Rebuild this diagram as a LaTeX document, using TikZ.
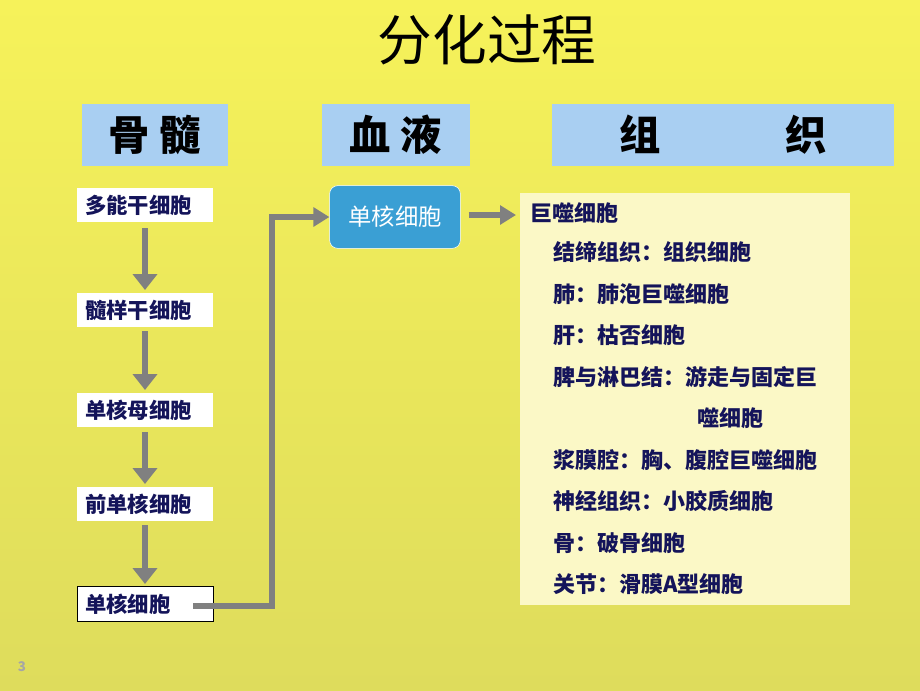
\documentclass[tikz,border=0pt]{standalone}
\usepackage{fontspec}
\setmainfont{Noto Sans CJK SC}
\usepackage{tikz}
\usetikzlibrary{arrows.meta, positioning}
\definecolor{bgtop}{HTML}{F6F25A}
\definecolor{bgbot}{HTML}{DEDC5C}
\definecolor{head}{HTML}{A9CFF2}
\definecolor{navy}{HTML}{14145A}
\definecolor{mono}{HTML}{3A9FD4}
\definecolor{panel}{HTML}{FBF8C6}
\definecolor{flow}{HTML}{808080}

\begin{document}
\begin{tikzpicture}[x=0.75pt, y=-0.75pt,
  header/.style ={fill=head, minimum width=#1, minimum height=47pt,
    font=\fontsize{31}{31}\selectfont\bfseries, inner sep=0pt},
  %
  stage/.style ={fill=white, anchor=west, text width=90pt,
    minimum height=26pt, text=navy, font=\fontsize{16}{16}\selectfont\bfseries,
    inner xsep=6pt, inner ysep=4pt, align=left},
  %
  item/.style ={anchor=west, text=navy, inner sep=0pt,
    font=\fontsize{16.5}{16.5}\selectfont\bfseries},
  %
  flowarrow/.style ={draw=flow, line width=5pt,
    -{Triangle[length=12pt, width=18pt]}} ]

  \shade[top color=bgtop, bottom color=bgbot] (0,0) rectangle (920,690);
  \useasboundingbox (0,0) rectangle (920,690);

  \node (title) at (487,40) {\fontsize{41}{41}\selectfont 分化过程};

  %%%%%%%%%%%%%%%%%%%%%%%%%%%%%%% headers
  \node [header=110pt] (marrow) at (155,135) {骨 髓};
  \node [header=111pt] (blood) at (396,135) {血 液};
  \node [header=257pt] (tissue) at (723,135) {组\hspace{3em}织};

  %%%%%%%%%%%%%%%%%%%%%%%%%%%%%%% marrow stages
  \node [stage] (stem) at (77,205) {多能干细胞};
  \node [stage] (myeloid) at (77,310) {髓样干细胞};
  \node [stage] (monoblast) at (77,410) {单核母细胞};
  \node [stage] (promono) at (77,504) {前单核细胞};
  \node [stage, draw=black, thin] (monocyte) at (77,604) {单核细胞};

  \draw [flowarrow] (145,228) -- (145,290);
  \draw [flowarrow] (145,331) -- (145,390);
  \draw [flowarrow] (145,432) -- (145,484);
  \draw [flowarrow] (145,525) -- (145,584);

  %%%%%%%%%%%%%%%%%%%%%%%%%%%%%%% blood
  \node [fill=mono, draw=white, rounded corners=6pt, minimum width=98pt,
    minimum height=47pt, text=white, font=\fontsize{17.5}{17.5}\selectfont]
    (blast) at (395,217) {单核细胞};

  \draw [flowarrow, -{Triangle[length=12pt, width=14pt]}] (193,606) -- (272,606) |- (blast.west);
  \draw [flowarrow, -{Triangle[length=12pt, width=14pt]}] (blast.east) ++(8,-2) -- (516,215);

  %%%%%%%%%%%%%%%%%%%%%%%%%%%%%%% tissue
  \fill [panel] (520,193) rectangle (850,605);
  \node [item] (macro) at (530,213) {巨噬细胞};
  \node [item] (conn) at (553,252) {结缔组织：组织细胞};
  \node [item] (lung) at (553,294) {肺：肺泡巨噬细胞};
  \node [item] (liver) at (553,335) {肝：枯否细胞};
  \node [item] (spleen) at (553,377) {脾与淋巴结：游走与固定巨};
  \node [item] (spleen2) at (697,418) {噬细胞};
  \node [item] (serous) at (553,460) {浆膜腔：胸、腹腔巨噬细胞};
  \node [item] (nerve) at (553,501) {神经组织：小胶质细胞};
  \node [item] (bone) at (553,543) {骨：破骨细胞};
  \node [item] (joint) at (553,584) {关节：滑膜A型细胞};

  \node [text=flow!70, font=\fontsize{10}{10}\selectfont\bfseries] (page) at (22,667) {3};

\end{tikzpicture}
\end{document}
